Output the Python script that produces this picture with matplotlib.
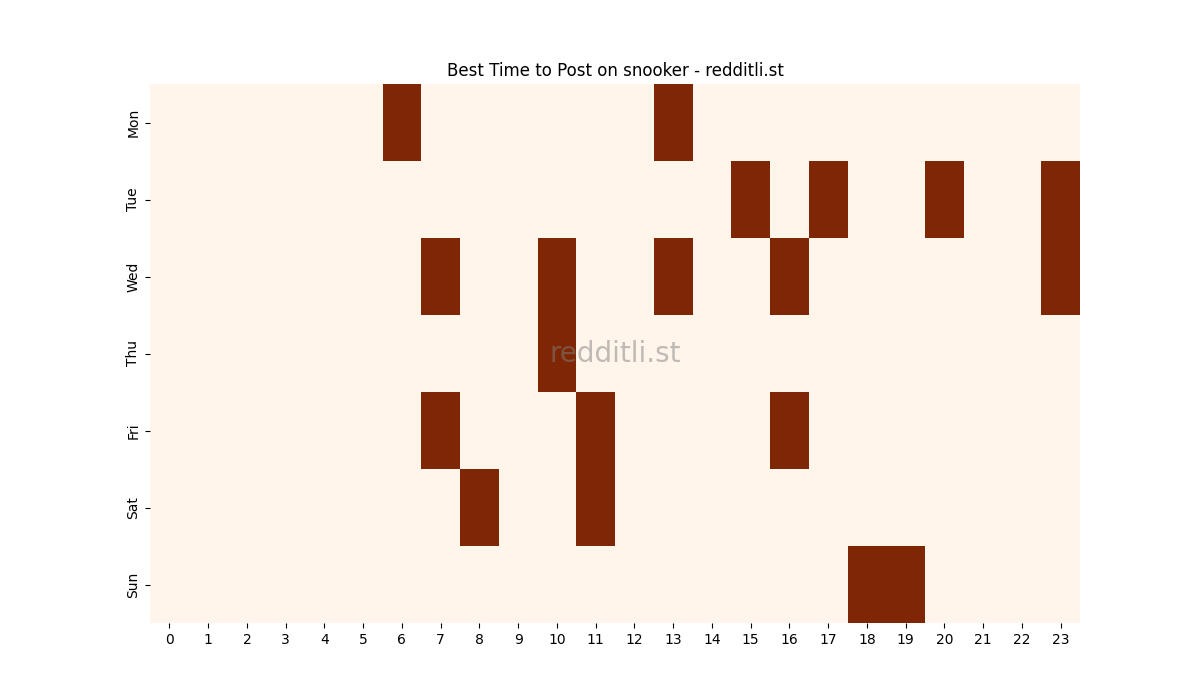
import numpy as np
import matplotlib
matplotlib.use("Agg")
import matplotlib.pyplot as plt
import seaborn as sns

days = ["Mon", "Tue", "Wed", "Thu", "Fri", "Sat", "Sun"]
hours = list(range(24))

# best hours per day (cells marked dark)
mon_best = [6, 13]
tue_best = [15, 17, 20, 23]
wed_best = [7, 10, 13, 16, 23]
thu_best = [10]
fri_best = [7, 11, 16]
sat_best = [8, 11]
sun_best = [18, 19]

best = [mon_best, tue_best, wed_best, thu_best, fri_best, sat_best, sun_best]

grid = np.zeros((len(days), len(hours)))
for i, hrs in enumerate(best):
    for h in hrs:
        grid[i, h] = 1

fig, ax = plt.subplots(figsize=(12, 7), dpi=100)
sns.heatmap(grid, cmap="Oranges", cbar=False, xticklabels=hours,
            yticklabels=days, ax=ax)
ax.set_title("Best Time to Post on snooker - redditli.st")
plt.setp(ax.get_yticklabels(), rotation=90, va="center")
plt.setp(ax.get_xticklabels(), rotation=0)
ax.text(0.5, 0.5, "redditli.st", transform=ax.transAxes, ha="center",
        va="center", fontsize=20, color="grey", alpha=0.5)

fig.savefig("out.png")
